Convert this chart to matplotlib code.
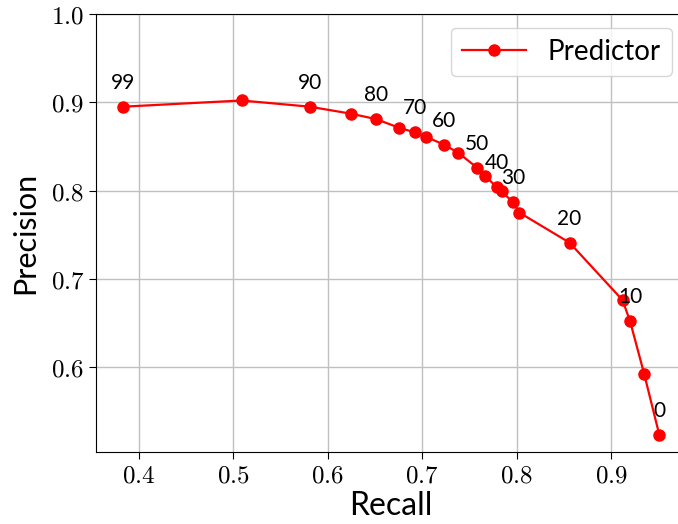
import numpy as np
import matplotlib
matplotlib.use("Agg")
import matplotlib.pyplot as plt
from matplotlib.ticker import FormatStrFormatter

# thresholds (percent) with the recall / precision
thresholds = [99, 95, 90, 85, 80, 75, 70, 65, 60, 55, 50, 45, 40, 35, 30, 25, 20, 15, 10, 5, 0]
recall = [0.384, 0.509, 0.581, 0.625, 0.651, 0.676, 0.692, 0.704, 0.723, 0.738, 0.758,
          0.767, 0.779, 0.784, 0.796, 0.803, 0.856, 0.912, 0.920, 0.935, 0.951]
precision = [0.895, 0.902, 0.895, 0.887, 0.881, 0.871, 0.866, 0.861, 0.852, 0.843, 0.826,
             0.816, 0.804, 0.799, 0.787, 0.775, 0.741, 0.676, 0.652, 0.592, 0.523]
labelled = [99, 90, 80, 70, 60, 50, 40, 30, 20, 10, 0]

plt.rcParams['font.family'] = ['Lato', 'DejaVu Sans']
plt.rcParams['mathtext.fontset'] = 'cm'

fig = plt.figure(figsize=(6.78, 5.24), dpi=100)
ax = fig.add_axes([0.1416, 0.1374, 0.870, 0.836])

ax.plot(recall, precision, color='red', marker='o', markersize=8, linewidth=1.6,
        label='Predictor')

for t, r, p in zip(thresholds, recall, precision):
    if t in labelled:
        ax.annotate(str(t), (r, p), xytext=(0, 10), textcoords='offset points',
                    ha='center', va='bottom', fontsize=15)

ax.set_xlim(0.355, 0.979)
ax.set_ylim(0.504, 1.0)
ax.set_xticks([0.4, 0.5, 0.6, 0.7, 0.8, 0.9])
ax.set_yticks([0.6, 0.7, 0.8, 0.9, 1.0])
ax.xaxis.set_major_formatter(FormatStrFormatter(r'$%.1f$'))
ax.yaxis.set_major_formatter(FormatStrFormatter(r'$%.1f$'))
ax.tick_params(labelsize=18, length=5)
ax.grid(True, color='#c0c0c0', linewidth=1)
ax.set_axisbelow(True)

ax.set_xlabel('Recall', fontsize=23, labelpad=3)
ax.set_ylabel('Precision', fontsize=22, labelpad=8)
ax.legend(loc='upper right', fontsize=20, handlelength=2.3)

fig.savefig('out.png', dpi=100)
